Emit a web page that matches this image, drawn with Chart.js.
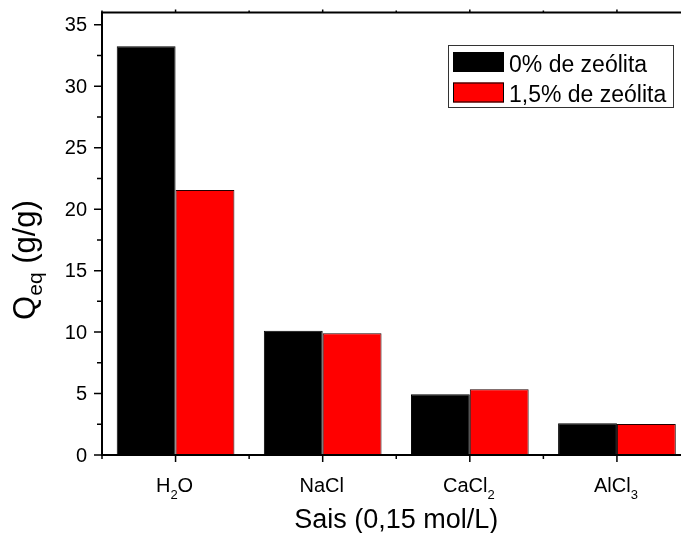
<!DOCTYPE html>
<html>
<head>
<meta charset="utf-8">
<script src="https://cdn.jsdelivr.net/npm/chart.js@4/dist/chart.umd.min.js"></script>
<style>
html,body{margin:0;padding:0;overflow:hidden;background:#fff;}
canvas{display:block;}
</style>
</head>
<body>
<canvas id="c" width="700" height="533"></canvas>
<script>
// ---- data ----
const categories = ['H2O', 'NaCl', 'CaCl2', 'AlCl3'];
const seriesLabels = ['0% de zeólita', '1,5% de zeólita'];
const zeolite0 = [33.25, 10.1, 4.95, 2.58];
const zeolite15 = [21.55, 9.9, 5.35, 2.52];
const seriesColors = ['#000000', '#ff0000'];
const yTicks = [0, 5, 10, 15, 20, 25, 30, 35];
const xTitle = 'Sais (0,15 mol/L)';
const yTitleMain = 'Q';
const yTitleSub = 'eq';
const yTitleRest = ' (g/g)';

const FONT = '"Liberation Sans", Arial, Helvetica, sans-serif';

function drawChem(ctx, text, cx, baseline, size, subSize, subDrop) {
  const runs = text.match(/(\d+|\D+)/g);
  let total = 0;
  const widths = runs.map(r => {
    const isSub = /^\d+$/.test(r);
    ctx.font = (isSub ? subSize : size) + 'px ' + FONT;
    const w = ctx.measureText(r).width;
    total += w;
    return w;
  });
  let x = cx - total / 2;
  ctx.textAlign = 'left';
  ctx.textBaseline = 'alphabetic';
  runs.forEach((r, i) => {
    const isSub = /^\d+$/.test(r);
    ctx.font = (isSub ? subSize : size) + 'px ' + FONT;
    ctx.fillText(r, x, baseline + (isSub ? subDrop : 0));
    x += widths[i];
  });
}

const decor = {
  id: 'decor',
  afterDatasetsDraw(chart) {
    const ctx = chart.ctx;
    const area = chart.chartArea;
    const xs = chart.scales.x;
    const ys = chart.scales.y;
    ctx.save();
    ctx.strokeStyle = '#000';
    ctx.fillStyle = '#000';
    ctx.lineWidth = 2;
    // frame (left, bottom, top)
    ctx.beginPath();
    ctx.moveTo(area.left, area.top);
    ctx.lineTo(area.right, area.top);
    ctx.moveTo(area.left, area.top - 1);
    ctx.lineTo(area.left, area.bottom + 1);
    ctx.moveTo(area.left - 1, area.bottom);
    ctx.lineTo(area.right, area.bottom);
    ctx.stroke();

    ctx.lineWidth = 1.5;
    // y ticks
    ctx.beginPath();
    yTicks.forEach(v => {
      const y = ys.getPixelForValue(v);
      ctx.moveTo(area.left - 8, y);
      ctx.lineTo(area.left, y);
      if (v + 2.5 < ys.max) {
        const ym = ys.getPixelForValue(v + 2.5);
        ctx.moveTo(area.left - 5, ym);
        ctx.lineTo(area.left, ym);
      }
    });
    // x ticks
    categories.forEach((c, i) => {
      const x = xs.getPixelForValue(i);
      ctx.moveTo(x, area.bottom);
      ctx.lineTo(x, area.bottom + 7);
      ctx.moveTo(x, area.top);
      ctx.lineTo(x, area.top - 3);
      const xb = xs.getPixelForValue(i - 0.5);
      ctx.moveTo(xb, area.bottom);
      ctx.lineTo(xb, area.bottom + 4);
      ctx.moveTo(xb, area.top);
      ctx.lineTo(xb, area.top - 2);
    });
    ctx.stroke();

    // y tick labels
    ctx.font = '20px ' + FONT;
    ctx.textAlign = 'right';
    ctx.textBaseline = 'middle';
    yTicks.forEach(v => {
      ctx.fillText(String(v), area.left - 15, ys.getPixelForValue(v) + 1);
    });

    // x tick labels
    categories.forEach((c, i) => {
      drawChem(ctx, c, xs.getPixelForValue(i) - 1, area.bottom + 37, 20, 13, 7);
    });

    // x title
    ctx.font = '27px ' + FONT;
    ctx.textAlign = 'center';
    ctx.textBaseline = 'alphabetic';
    ctx.fillText(xTitle, (area.left + area.right) / 2, 528);

    // y title (rotated)
    ctx.save();
    ctx.translate(35, 260);
    ctx.rotate(-Math.PI / 2);
    ctx.font = '31px ' + FONT;
    const wQ = ctx.measureText(yTitleMain).width;
    const wR = ctx.measureText(yTitleRest).width;
    ctx.font = '21px ' + FONT;
    const wS = ctx.measureText(yTitleSub).width;
    let u = -(wQ + wS + wR) / 2;
    ctx.textAlign = 'left';
    ctx.font = '31px ' + FONT;
    ctx.fillText(yTitleMain, u, 0);
    u += wQ;
    ctx.font = '21px ' + FONT;
    ctx.fillText(yTitleSub, u, 7);
    u += wS;
    ctx.font = '31px ' + FONT;
    ctx.fillText(yTitleRest, u, 0);
    ctx.restore();

    // legend
    const lx = 448, ly = 45, lw = 225, lh = 62;
    ctx.lineWidth = 1;
    ctx.strokeStyle = '#333';
    ctx.strokeRect(lx + 0.5, ly + 0.5, lw, lh);
    chart.data.datasets.forEach((ds, i) => {
      const sy = 52 + i * 30.5;
      ctx.fillStyle = ds.backgroundColor;
      ctx.fillRect(453, sy, 51, 20);
      ctx.strokeStyle = '#000';
      ctx.lineWidth = 1;
      ctx.strokeRect(453.5, sy + 0.5, 50, 19);
      ctx.fillStyle = '#000';
      ctx.font = '23px ' + FONT;
      ctx.textAlign = 'left';
      ctx.textBaseline = 'alphabetic';
      ctx.fillText(ds.label, 509, sy + 19.5);
    });
    ctx.restore();
  }
};

new Chart(document.getElementById('c'), {
  type: 'bar',
  data: {
    labels: categories,
    datasets: [
      { label: seriesLabels[0], data: zeolite0, backgroundColor: seriesColors[0], borderColor: '#000', borderWidth: 1 },
      { label: seriesLabels[1], data: zeolite15, backgroundColor: seriesColors[1], borderColor: '#200', borderWidth: 1 }
    ]
  },
  options: {
    responsive: false,
    animation: false,
    layout: { padding: { left: 102, top: 12.5, right: 9.5, bottom: 78 } },
    datasets: { bar: { categoryPercentage: 0.8, barPercentage: 1.0 } },
    scales: {
      x: { display: false },
      y: { display: false, min: 0, max: 36 }
    },
    plugins: { legend: { display: false }, tooltip: { enabled: false } }
  },
  plugins: [decor]
});
</script>
</body>
</html>
